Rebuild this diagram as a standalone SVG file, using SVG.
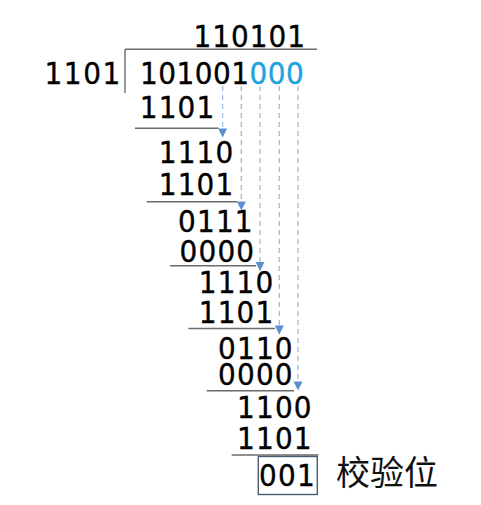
<svg xmlns="http://www.w3.org/2000/svg" width="481" height="505" viewBox="0 0 481 505">
<style>
.t{font-family:"DejaVu Sans Condensed","DejaVu Sans",sans-serif;font-stretch:condensed;font-size:31px;fill:#000;stroke:#000;stroke-width:0.35;letter-spacing:1.2px}
.d{letter-spacing:0.5px}
.b{fill:#1ca3e0;stroke:#1ca3e0}
.cjk{font-family:"Noto Sans CJK SC","Noto Sans",sans-serif;font-size:34px;fill:#111}
.rule{stroke:#6b6b6b;stroke-width:1.4;fill:none}
.dash{stroke:#9dbcde;stroke-width:1.3;stroke-dasharray:5 4;fill:none}
.box{stroke:#4a5d75;stroke-width:1.4;fill:none}
</style>
<defs>
<marker id="ah" markerUnits="userSpaceOnUse" markerWidth="10" markerHeight="10" viewBox="0 0 10 10" refX="5" refY="9.5" orient="0">
<path d="M0.5,0.5 L9.5,0.5 L5,9.5 Z" fill="#5b8fd0"/>
</marker>
</defs>
<rect width="481" height="505" fill="#fff"/>
<g id="connectors">
<path class="rule" d="M125,49.3 H317 M125,49.3 V93"/>
<path class="rule" d="M135,128.3 H218.5"/>
<path class="rule" d="M146.7,201.7 H237"/>
<path class="rule" d="M170,265.7 H256"/>
<path class="rule" d="M188.3,328.5 H275"/>
<path class="rule" d="M206.7,390.7 H294"/>
<path class="rule" d="M231.7,455 H318.3"/>
<path class="dash" d="M222.6,86 V137.5" marker-end="url(#ah)"/>
<path class="dash" d="M241.3,86 V210.5" marker-end="url(#ah)"/>
<path class="dash" d="M260,86 V271" marker-end="url(#ah)"/>
<path class="dash" d="M279.3,86 V334.5" marker-end="url(#ah)"/>
<path class="dash" d="M298,86 V390.5" marker-end="url(#ah)"/>
</g>
<g id="quotient"><text class="t" x="193.5" y="46.5" style="letter-spacing:1px">110101</text></g>
<g id="divisor"><text class="t" x="44.5" y="83.5" style="letter-spacing:1.6px">1101</text></g>
<g id="dividend"><text class="t d" x="140" y="83.5">101001<tspan class="b">000</tspan></text></g>
<g id="r1"><text class="t" x="139.7" y="117.5">1101</text></g>
<g id="r2"><text class="t" x="158.7" y="162.5">1110</text></g>
<g id="r3"><text class="t" x="158.7" y="195">1101</text></g>
<g id="r4"><text class="t" x="178" y="231.5">0111</text></g>
<g id="r5"><text class="t" x="179.5" y="261.5">0000</text></g>
<g id="r6"><text class="t" x="198.7" y="293.3">1110</text></g>
<g id="r7"><text class="t" x="198.7" y="323.3">1101</text></g>
<g id="r8"><text class="t" x="218" y="359.3">0110</text></g>
<g id="r9"><text class="t" x="218" y="385">0000</text></g>
<g id="r10"><text class="t" x="237" y="418.3">1100</text></g>
<g id="r11"><text class="t" x="237" y="449">1101</text></g>
<g id="remainder">
<rect class="box" x="258.3" y="456.5" width="59" height="38"/>
<text class="t" x="259" y="485.5">001</text>
</g>
<g id="label"><text class="cjk" x="336" y="485">校验位</text></g>
</svg>
